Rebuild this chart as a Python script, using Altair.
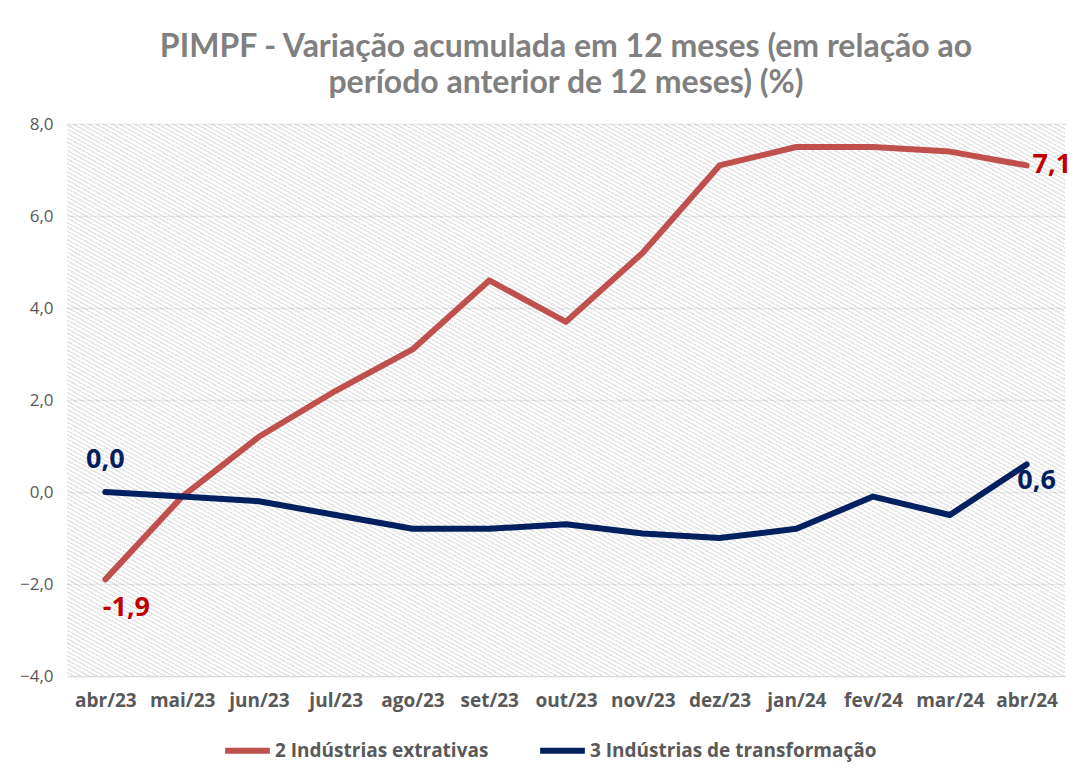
import altair as alt
import pandas as pd

months = ["abr/23", "mai/23", "jun/23", "jul/23", "ago/23", "set/23", "out/23",
          "nov/23", "dez/23", "jan/24", "fev/24", "mar/24", "abr/24"]
extrativas = [-1.9, -0.1, 1.2, 2.2, 3.1, 4.6, 3.7, 5.2, 7.1, 7.5, 7.5, 7.4, 7.1]
transformacao = [0.0, -0.1, -0.2, -0.5, -0.8, -0.8, -0.7, -0.9, -1.0, -0.8, -0.1, -0.5, 0.6]
series_names = ["2 Indústrias extrativas", "3 Indústrias de transformação"]
line_colors = ["#C0504D", "#002060"]
label_colors = ["#C00000", "#002060"]

FONT = "Open Sans"
TFONT = "Lato"
W, H = 998, 552

rows = []
for m, v in zip(months, extrativas):
    rows.append({"mes": m, "valor": v, "serie": series_names[0]})
for m, v in zip(months, transformacao):
    rows.append({"mes": m, "valor": v, "serie": series_names[1]})
df = pd.DataFrame(rows)

# hatch pattern background (style only)
N = 260
stops = []
for i in range(N):
    stops.append({"offset": i / N, "color": "#ffffff"})
    stops.append({"offset": (i + 0.6) / N, "color": "#ffffff"})
    stops.append({"offset": (i + 0.6) / N, "color": "#d0d0d0"})
    stops.append({"offset": (i + 1) / N, "color": "#d0d0d0"})
hatch = {"gradient": "linear", "x1": 0, "y1": 1, "x2": 1, "y2": 0, "stops": stops}

bg = alt.Chart(pd.DataFrame({"a": [0]})).mark_rect(fill=hatch, opacity=0.55).encode(
    x=alt.value(0), x2=alt.value(W), y=alt.value(0), y2=alt.value(H)
)

x_enc = alt.X("mes:N", sort=months, scale=alt.Scale(domain=months),
              axis=alt.Axis(title=None, labelAngle=0, labelFont=FONT, labelFontSize=19,
                            labelFontWeight="bold", labelColor="#595959", labelPadding=15,
                            ticks=False, domain=False, grid=False))
y_enc = alt.Y("valor:Q", scale=alt.Scale(domain=[-4, 8], nice=False, zero=False),
              axis=alt.Axis(title=None, values=[-4, -2, 0, 2, 4, 6, 8],
                            labelExpr="replace(format(datum.value, '.1f'), '.', ',')",
                            labelFont=FONT, labelFontSize=17, labelColor="#595959",
                            labelPadding=14, ticks=False, domain=False,
                            grid=True, gridColor="#d9d9d9", gridWidth=1.3))

lines = alt.Chart(df).mark_line(strokeWidth=6, strokeCap="round", strokeJoin="round").encode(
    x=x_enc, y=y_enc,
    color=alt.Color("serie:N", scale=alt.Scale(domain=series_names, range=line_colors),
                    legend=alt.Legend(title=None, orient="none", legendX=155, legendY=601,
                                      direction="horizontal",
                                      symbolType="stroke", symbolStrokeWidth=6,
                                      symbolSize=2000, labelFont=FONT, labelFontSize=19,
                                      labelFontWeight="bold", labelColor="#595959",
                                      labelLimit=0, columnPadding=39, labelOffset=2))
)

def label(series_idx, month_idx, dx, dy, align):
    vals = extrativas if series_idx == 0 else transformacao
    v = vals[month_idx]
    d = pd.DataFrame({"mes": [months[month_idx]], "valor": [v],
                      "txt": [f"{v:.1f}".replace(".", ",")]})
    return alt.Chart(d).mark_text(font=FONT, fontSize=27, fontWeight="bold",
                                  color=label_colors[series_idx], dx=dx, dy=dy,
                                  align=align, baseline="middle").encode(
        x=alt.X("mes:N", sort=months, scale=alt.Scale(domain=months)),
        y=alt.Y("valor:Q", scale=alt.Scale(domain=[-4, 8], nice=False, zero=False)),
        text="txt:N")

labels = [
    label(0, 0, 21, 29, "center"),
    label(0, 12, 6, 0, "left"),
    label(1, 0, 0, -32, "center"),
    label(1, 12, 10, 17, "center"),
]

chart = alt.layer(bg, lines, *labels).properties(
    width=W, height=H,
    title=alt.TitleParams(
        text=["PIMPF - Variação acumulada em 12 meses (em relação ao",
              "período anterior de 12 meses) (%)"],
        font=TFONT, fontSize=32, fontWeight="bold", color="#808080",
        lineHeight=36, anchor="middle", offset=15),
    autosize=alt.AutoSizeParams(type="none"),
    padding={"left": 59, "top": 116, "right": 5, "bottom": 96},
    background="white",
).configure_view(stroke=None)

chart.save("out.html", embed_options={"renderer": "svg", "actions": False})
